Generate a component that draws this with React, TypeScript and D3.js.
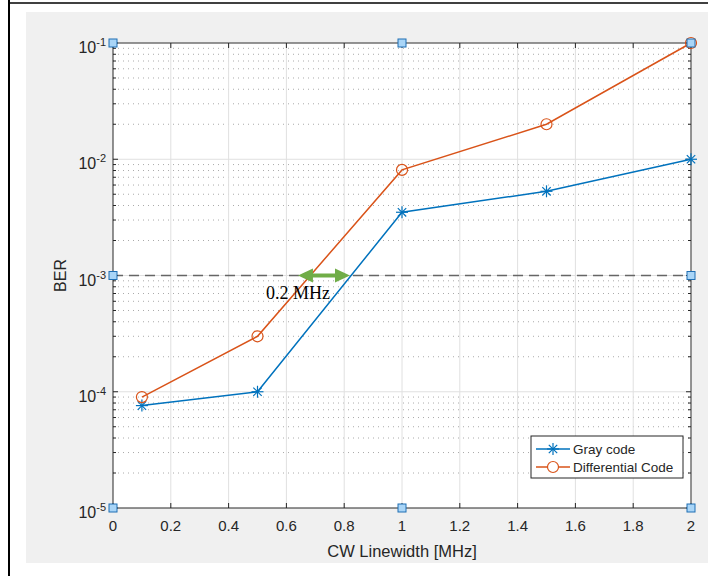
import * as d3 from "d3";

const linewidth = [0.1, 0.5, 1, 1.5, 2];
const grayCode = [7.6e-5, 1.0e-4, 3.5e-3, 5.3e-3, 1.0e-2];
const differentialCode = [9.0e-5, 3.0e-4, 8.1e-3, 2.0e-2, 1.0e-1];
const xTicks = [0, 0.2, 0.4, 0.6, 0.8, 1, 1.2, 1.4, 1.6, 1.8, 2];
const yDecades = [-5, -4, -3, -2, -1];
const berThreshold = 1e-3;
const arrowFrom = 0.64;
const arrowTo = 0.82;
const handlesX = [0, 1, 2];
const handlesY = [1e-1, 1e-3, 1e-5];

const BLUE = "#0072bd";
const ORANGE = "#d95319";
const AX = "#262626";

const width = 708;
const height = 576;
const marginLeft = 113;
const marginRight = 17;
const marginTop = 43;
const marginBottom = 68;

const Asterisk = ({ x, y, r = 6, color }: any) => (
  <g stroke={color} strokeWidth={1.2}>
    <line x1={x - r} y1={y} x2={x + r} y2={y} />
    <line x1={x} y1={y - r} x2={x} y2={y + r} />
    <line x1={x - r * 0.7} y1={y - r * 0.7} x2={x + r * 0.7} y2={y + r * 0.7} />
    <line x1={x - r * 0.7} y1={y + r * 0.7} x2={x + r * 0.7} y2={y - r * 0.7} />
  </g>
);

const App = () => {
  const x = d3.scaleLinear().domain([0, 2]).range([marginLeft, width - marginRight]);
  const y = d3
    .scaleLog()
    .domain([1e-5, 1e-1])
    .range([height - marginBottom, marginTop]);

  const x0 = x(0);
  const x1 = x(2);
  const yTop = y(1e-1);
  const yBot = y(1e-5);

  // minor log ticks 2..9 in each decade
  const minor: number[] = [];
  yDecades.slice(0, -1).forEach((e) => {
    for (let k = 2; k <= 9; k++) minor.push(k * Math.pow(10, e));
  });

  const line = d3
    .line<number>()
    .x((_, i) => x(linewidth[i]))
    .y((d) => y(d));

  const yArrow = y(berThreshold);
  const ax1 = x(arrowFrom);
  const ax2 = x(arrowTo);
  const head = 15;

  return (
    <svg
      width={width}
      height={height}
      style={{ position: "absolute", left: 0, top: 0, display: "block" }}
      fontFamily="'Liberation Sans', Arial, sans-serif"
    >
      <rect width={width} height={height} fill="#fff" />
      <line x1={9} y1={0} x2={9} y2={height} stroke="#000" strokeWidth={2} />
      <line x1={8} y1={3} x2={width} y2={3} stroke="#000" strokeWidth={1.5} />
      <rect x={26} y={12} width={width - 26} height={551} fill="#f0f0f0" />

      <rect x={x0} y={yTop} width={x1 - x0} height={yBot - yTop} fill="#fff" />

      {/* minor grid */}
      <g stroke="#aaaaaa" strokeDasharray="1,4">
        {minor.map((m) => (
          <line key={m} x1={x0} x2={x1} y1={y(m)} y2={y(m)} />
        ))}
      </g>
      {/* major grid */}
      <g stroke="#e0e0e0">
        {xTicks.slice(1, -1).map((t) => (
          <line key={t} x1={x(t)} x2={x(t)} y1={yTop} y2={yBot} />
        ))}
        {yDecades.slice(1, -1).map((e) => (
          <line key={e} x1={x0} x2={x1} y1={y(Math.pow(10, e))} y2={y(Math.pow(10, e))} />
        ))}
      </g>

      {/* threshold */}
      <line
        x1={x0}
        x2={x1}
        y1={y(berThreshold)}
        y2={y(berThreshold)}
        stroke="#666"
        strokeWidth={1.6}
        strokeDasharray="10,6"
      />

      {/* axes box */}
      <g stroke={AX} strokeWidth={1}>
        <line x1={x0} x2={x1} y1={yBot} y2={yBot} />
        <line x1={x0} x2={x0} y1={yTop} y2={yBot} />
      </g>
      <g stroke="#707070" strokeWidth={1.5}>
        <line x1={x0} x2={x1} y1={yTop} y2={yTop} />
        <line x1={x1} x2={x1} y1={yTop} y2={yBot} />
      </g>
      <g stroke={AX}>
        {xTicks.map((t) => (
          <g key={t}>
            <line x1={x(t)} x2={x(t)} y1={yBot} y2={yBot - 5} />
            <line x1={x(t)} x2={x(t)} y1={yTop} y2={yTop + 5} />
          </g>
        ))}
        {yDecades.map((e) => (
          <g key={e}>
            <line x1={x0} x2={x0 + 5} y1={y(Math.pow(10, e))} y2={y(Math.pow(10, e))} />
            <line x1={x1} x2={x1 - 5} y1={y(Math.pow(10, e))} y2={y(Math.pow(10, e))} />
          </g>
        ))}
        {minor.map((m) => (
          <g key={m}>
            <line x1={x0} x2={x0 + 3} y1={y(m)} y2={y(m)} />
            <line x1={x1} x2={x1 - 3} y1={y(m)} y2={y(m)} />
          </g>
        ))}
      </g>

      {/* tick labels */}
      <g fill={AX} fontSize={15}>
        {xTicks.map((t) => (
          <text key={t} x={x(t)} y={yBot + 23} textAnchor="middle">
            {d3.format("~g")(t)}
          </text>
        ))}
        {yDecades.map((e) => (
          <text key={e} x={x0 - 7} y={y(Math.pow(10, e)) + 10} textAnchor="end" fontSize={16}>
            10<tspan dy={-7} fontSize={11}>{e}</tspan>
          </text>
        ))}
      </g>
      <text x={(x0 + x1) / 2} y={557} textAnchor="middle" fontSize={16.5} fill={AX}>
        CW Linewidth [MHz]
      </text>
      <text
        transform={`translate(66,${(yTop + yBot) / 2}) rotate(-90)`}
        textAnchor="middle"
        fontSize={16}
        fill={AX}
      >
        BER
      </text>

      {/* series */}
      <path d={line(grayCode) || ""} fill="none" stroke={BLUE} strokeWidth={1.5} />
      <path d={line(differentialCode) || ""} fill="none" stroke={ORANGE} strokeWidth={1.5} />
      {grayCode.map((d, i) => (
        <Asterisk key={i} x={x(linewidth[i])} y={y(d)} color={BLUE} />
      ))}
      {differentialCode.map((d, i) => (
        <circle key={i} cx={x(linewidth[i])} cy={y(d)} r={5.5} fill="none" stroke={ORANGE} strokeWidth={1.2} />
      ))}

      {/* annotation arrow */}
      <g fill="#70ad47" stroke="none">
        <line x1={ax1 + head - 2} x2={ax2 - head + 2} y1={yArrow} y2={yArrow} stroke="#70ad47" strokeWidth={4} />
        <path d={`M${ax1},${yArrow} L${ax1 + head},${yArrow - 7} L${ax1 + head},${yArrow + 7} Z`} />
        <path d={`M${ax2},${yArrow} L${ax2 - head},${yArrow - 7} L${ax2 - head},${yArrow + 7} Z`} />
      </g>
      <text x={266} y={299} fontFamily="'Liberation Serif', 'Times New Roman', serif" fontSize={18} fill="#000">
        0.2 MHz
      </text>

      {/* data-cursor handles */}
      {handlesX.map((hx) =>
        handlesY.map((hy) =>
          hx === 1 && hy === 1e-3 ? null : (
            <rect
              key={`${hx}-${hy}`}
              x={x(hx) - 4}
              y={y(hy) - 4}
              width={8}
              height={8}
              fill="#a9d5f7"
              stroke="#1f6fb4"
              strokeWidth={1}
            />
          )
        )
      )}

      {/* legend */}
      <g transform="translate(531,436)">
        <rect width={152} height={42} fill="#fff" stroke={AX} strokeWidth={1} />
        <line x1={5} x2={39} y1={13} y2={13} stroke={BLUE} strokeWidth={1.5} />
        <Asterisk x={22} y={13} color={BLUE} />
        <text x={42} y={18} fontSize={13.5} fill={AX}>Gray code</text>
        <line x1={5} x2={39} y1={31} y2={31} stroke={ORANGE} strokeWidth={1.5} />
        <circle cx={22} cy={31} r={5.5} fill="#fff" stroke={ORANGE} strokeWidth={1.2} />
        <text x={42} y={36} fontSize={13.5} fill={AX}>Differential Code</text>
      </g>
    </svg>
  );
};

export default App;
